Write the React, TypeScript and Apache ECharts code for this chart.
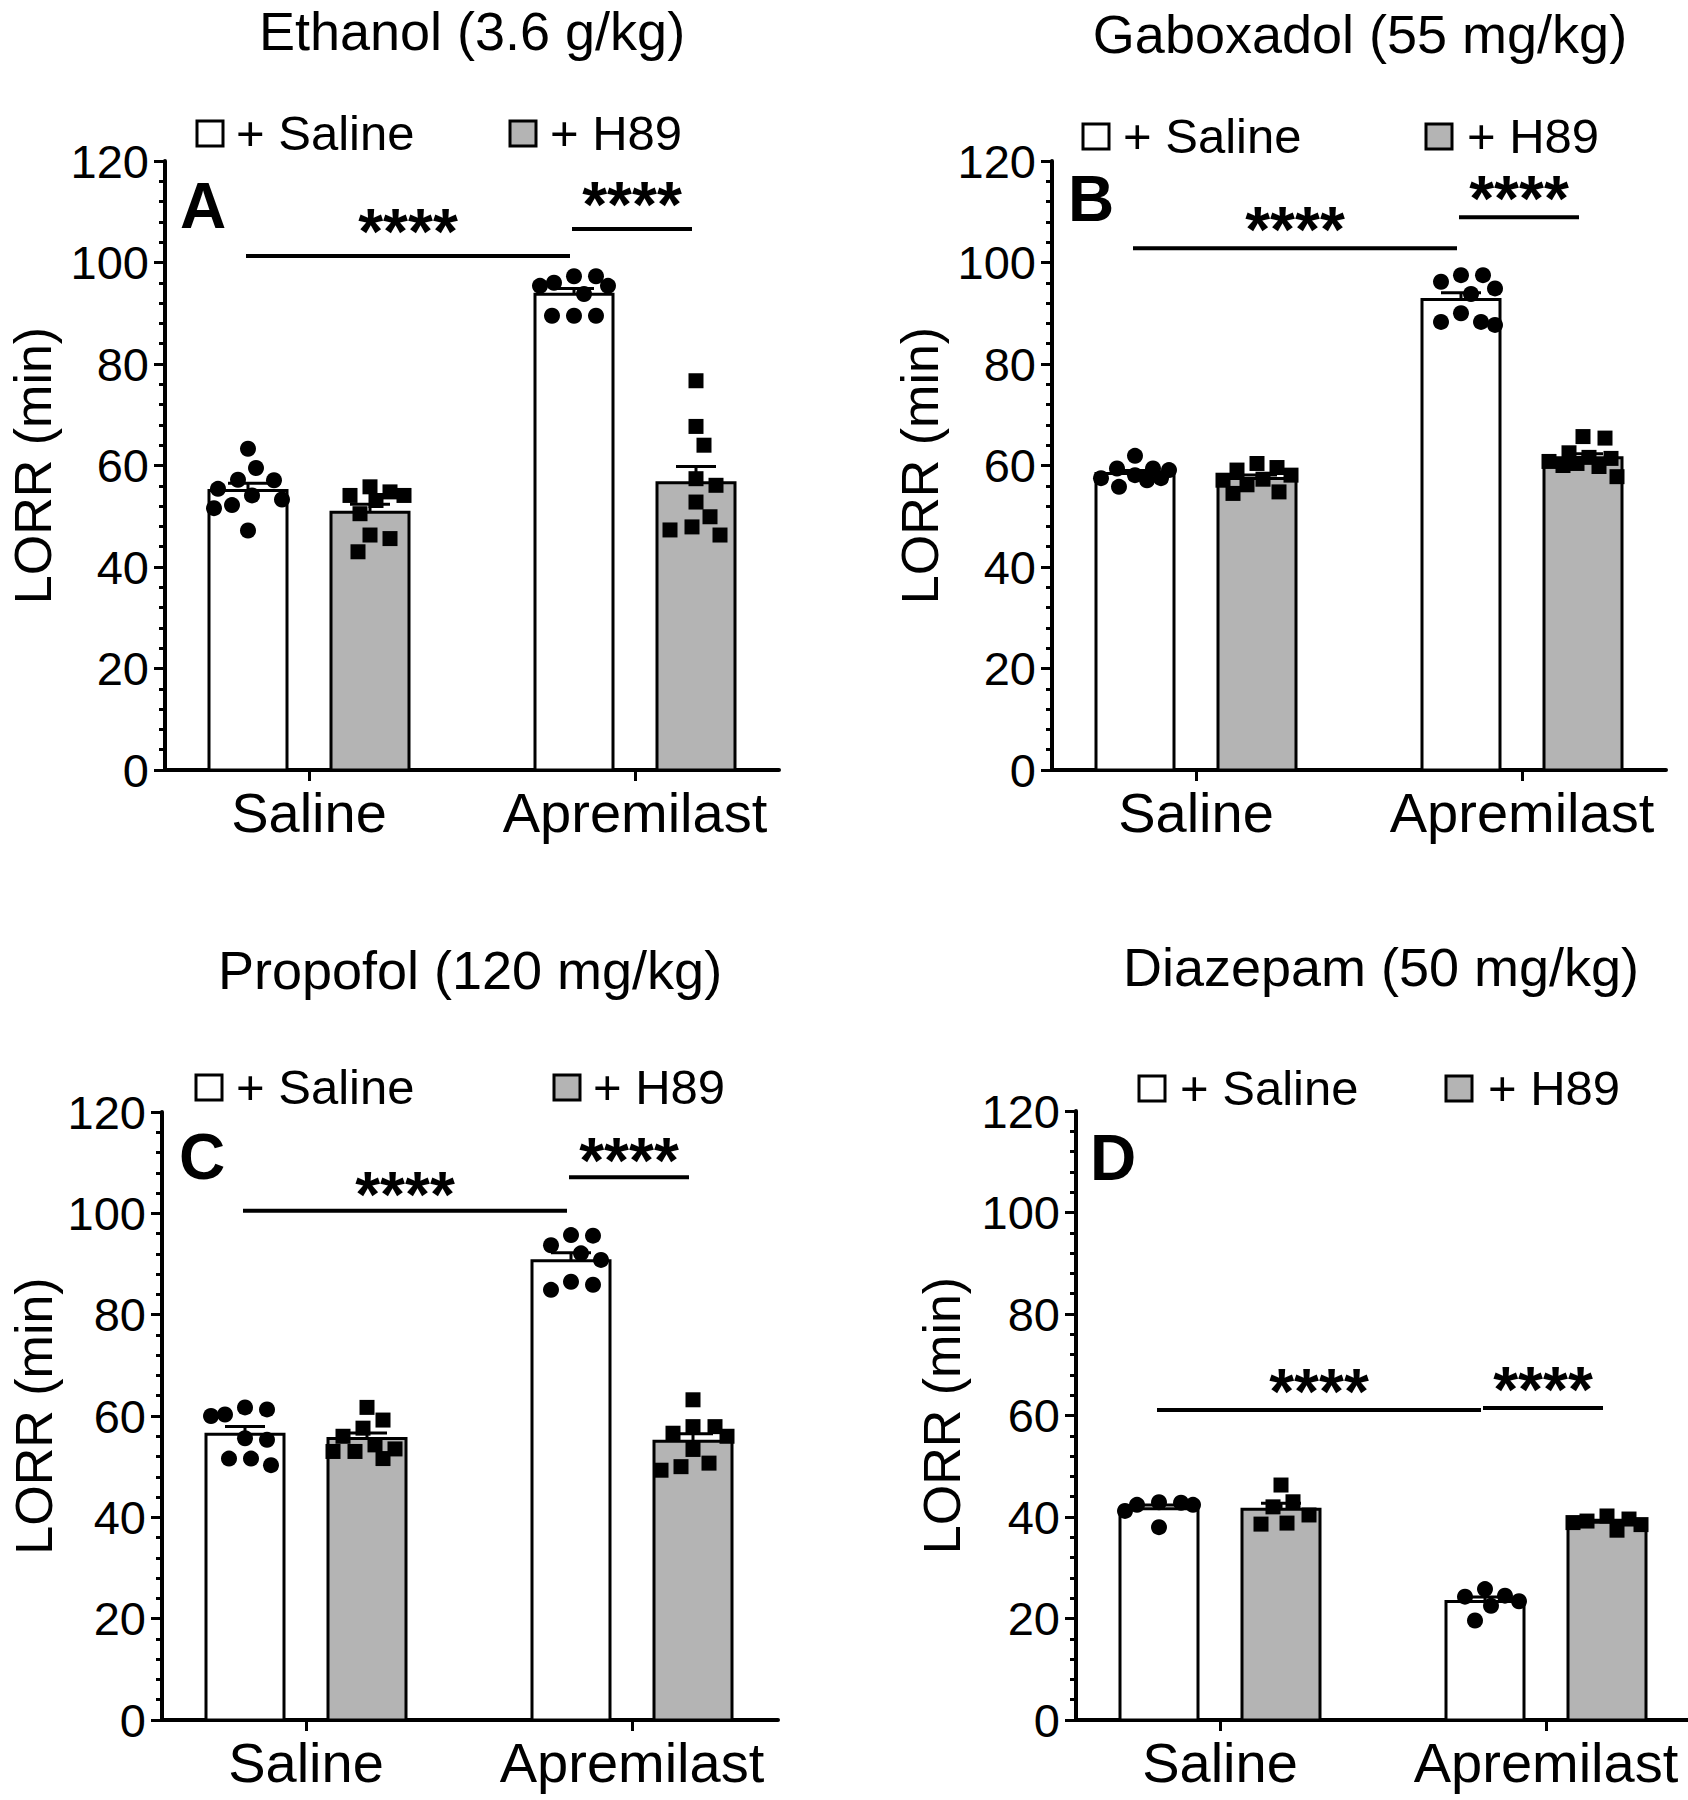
import React, { useEffect, useRef } from 'react';
import * as echarts from 'echarts';

// ---------------- data ----------------
const categories = ['Saline', 'Apremilast'];
const legendLabels = ['+ Saline', '+ H89'];
const panelTitles = ['Ethanol (3.6 g/kg)', 'Gaboxadol (55 mg/kg)', 'Propofol (120 mg/kg)', 'Diazepam (50 mg/kg)'];
const panelLetters = ['A', 'B', 'C', 'D'];
const yAxisName = 'LORR (min)';
const yMin = 0;
const yMax = 120;
const yStep = 20;
const sigLabel = '****';

// individual LORR values (min): Saline+Saline, Saline+H89, Apremilast+Saline, Apremilast+H89
const ethanolSalSal = [63.3, 59.5, 57.2, 57.1, 55.4, 54.1, 53.3, 52.2, 51.6, 47.2];
const ethanolSalH89 = [55.8, 54.8, 54.1, 54.1, 53.1, 50.5, 46.3, 45.6, 43.0];
const ethanolAprSal = [97.3, 97.3, 96.0, 95.4, 95.4, 93.8, 89.5, 89.5, 89.5];
const ethanolAprH89 = [76.7, 67.7, 64.0, 57.4, 56.1, 52.8, 49.9, 47.9, 47.3, 46.3];

const gaboxadolSalSal = [61.9, 59.4, 59.4, 59.1, 58.1, 57.5, 57.5, 57.1, 55.8];
const gaboxadolSalH89 = [60.4, 59.6, 59.1, 58.1, 57.3, 57.1, 56.2, 54.8, 54.5];
const gaboxadolAprSal = [97.5, 97.5, 96.2, 94.9, 93.8, 90.0, 88.3, 88.3, 87.7];
const gaboxadolAprH89 = [65.7, 65.4, 62.5, 61.6, 61.4, 60.8, 60.4, 60.0, 59.8, 57.8];

const propofolSalSal = [61.7, 61.3, 60.3, 60.0, 55.6, 55.3, 51.6, 51.6, 50.3];
const propofolSalH89 = [61.7, 59.2, 57.6, 56.0, 54.3, 53.5, 53.0, 53.0, 51.6];
const propofolAprSal = [95.7, 95.6, 93.7, 92.1, 90.8, 86.5, 85.9, 84.9];
const propofolAprH89 = [63.2, 57.9, 57.9, 56.6, 56.0, 53.4, 50.7, 50.0, 49.3];

const diazepamSalSal = [42.9, 42.8, 42.4, 42.4, 41.2, 38.0];
const diazepamSalH89 = [46.3, 43.0, 42.0, 40.4, 38.8, 38.6];
const diazepamAprSal = [25.8, 24.5, 24.3, 23.4, 22.5, 19.6];
const diazepamAprH89 = [40.2, 39.6, 39.2, 38.9, 38.5, 37.4];

// significance brackets: [from bar, to bar, height (min)]; bars 0..3 = SS, SH, AS, AH
const ethanolSig = [[0, 2, 101.3], [2, 3, 106.6]];
const gaboxadolSig = [[0, 2, 102.8], [2, 3, 108.9]];
const propofolSig = [[0, 2, 100.5], [2, 3, 107.1]];
const diazepamSig = [[0, 2, 61.1], [2, 3, 61.5]];

const panelGroups = [
  [ethanolSalSal, ethanolSalH89, ethanolAprSal, ethanolAprH89],
  [gaboxadolSalSal, gaboxadolSalH89, gaboxadolAprSal, gaboxadolAprH89],
  [propofolSalSal, propofolSalH89, propofolAprSal, propofolAprH89],
  [diazepamSalSal, diazepamSalH89, diazepamAprSal, diazepamAprH89],
];
const panelSig = [ethanolSig, gaboxadolSig, propofolSig, diazepamSig];

// ---------------- layout / style ----------------
const FONT = "'Liberation Sans', Arial, Helvetica, sans-serif";
const GREY = '#b4b4b4';
const UNIT_PX = 326; // px between the two category ticks
const TICK_FROM_AXIS = 144;
const BAR_OFFSET = 61;
const BAR_W = 78;
const CAP_W = 40;
const DOT = 16;
const SQ = 15;

const layouts = [
  { left: 165, top: 161, width: 614, height: 609, title: [472, 31], legendY: 133, lg: [210, 236, 523, 550], letter: [180, 206], starUp: 24, nameGap: 106 },
  { left: 1052, top: 161, width: 614, height: 609, title: [1360, 34], legendY: 136, lg: [1096, 1123, 1439, 1467], letter: [1068, 199], starUp: 18, nameGap: 106 },
  { left: 162, top: 1112, width: 616, height: 608, title: [470, 970], legendY: 1087, lg: [209, 236, 567, 593], letter: [179, 1157], starUp: 16, nameGap: 102 },
  { left: 1076, top: 1111, width: 612, height: 609, title: [1381, 967], legendY: 1088, lg: [1152, 1180, 1459, 1488], letter: [1090, 1158], starUp: 18, nameGap: 108 },
];

const mean = (a: number[]) => a.reduce((s, v) => s + v, 0) / a.length;
const sem = (a: number[]) => {
  const m = mean(a);
  const sd = Math.sqrt(a.reduce((s, v) => s + (v - m) * (v - m), 0) / (a.length - 1));
  return sd / Math.sqrt(a.length);
};

// simple beeswarm: horizontal pixel offsets so that symbols do not overlap
function swarm(values: number[], pxPerUnit: number, d: number, maxOff: number): number[] {
  const order = values.map((v, i) => i).sort((a, b) => values[b] - values[a]);
  const placed: { x: number; y: number }[] = [];
  const out = new Array(values.length).fill(0);
  for (const i of order) {
    const y = values[i] * pxPerUnit;
    let best = 0;
    let bestScore = -Infinity;
    let found = false;
    for (let k = 0; k <= maxOff && !found; k += 2) {
      const cands = k === 0 ? [0] : [k, -k];
      for (const c of cands) {
        let minD = Infinity;
        for (const p of placed) minD = Math.min(minD, Math.hypot(p.x - c, p.y - y));
        if (minD >= d) {
          best = c;
          found = true;
          break;
        }
        if (minD > bestScore) {
          bestScore = minD;
          best = c;
        }
      }
    }
    placed.push({ x: best, y });
    out[i] = best;
  }
  return out;
}

const barGroup = (b: number) => (b < 2 ? 1 : 2);
const barSide = (b: number) => (b % 2 === 0 ? -1 : 1);

function buildOption() {
  const grid: any[] = [];
  const xAxis: any[] = [];
  const yAxis: any[] = [];
  const series: any[] = [];
  const graphic: any[] = [];

  layouts.forEach((L, p) => {
    const xmin = 1 - TICK_FROM_AXIS / UNIT_PX;
    const xmax = xmin + L.width / UNIT_PX;
    grid.push({ left: L.left, top: L.top, width: L.width, height: L.height, containLabel: false });
    xAxis.push({
      type: 'value',
      gridIndex: p,
      min: xmin,
      max: xmax,
      splitLine: { show: false },
      axisLine: { show: true, onZero: false, lineStyle: { color: '#000', width: 4 } },
      axisTick: { show: true, customValues: [1, 2], length: 11, lineStyle: { color: '#000', width: 3 } },
      axisLabel: {
        show: true,
        customValues: [1, 2],
        formatter: (v: number) => categories[Math.round(v) - 1] || '',
        fontSize: 56,
        color: '#000',
        fontFamily: FONT,
        margin: 14,
      },
    });
    yAxis.push({
      type: 'value',
      gridIndex: p,
      min: yMin,
      max: yMax,
      interval: yStep,
      name: yAxisName,
      nameLocation: 'middle',
      nameRotate: 90,
      nameGap: L.nameGap,
      nameTextStyle: { fontSize: 52, color: '#000', fontFamily: FONT },
      splitLine: { show: false },
      axisLine: { show: true, lineStyle: { color: '#000', width: 4 } },
      axisTick: { show: true, length: 11, lineStyle: { color: '#000', width: 3 } },
      minorTick: { show: true, splitNumber: 5, length: 6, lineStyle: { color: '#000', width: 3 } },
      axisLabel: { fontSize: 47, color: '#000', fontFamily: FONT, margin: 16 },
    });

    const groups = panelGroups[p];
    const pxPerUnit = L.height / (yMax - yMin);

    // bars
    series.push({
      type: 'custom',
      xAxisIndex: p,
      yAxisIndex: p,
      coordinateSystem: 'cartesian2d',
      data: groups.map((g, b) => [barGroup(b), mean(g), barSide(b), b % 2]),
      renderItem: (params: any, api: any) => {
        const top = api.coord([api.value(0), api.value(1)]);
        const base = api.coord([api.value(0), 0]);
        const cx = top[0] + api.value(2) * BAR_OFFSET;
        return {
          type: 'rect',
          shape: { x: cx - BAR_W / 2, y: top[1], width: BAR_W, height: base[1] - top[1] },
          style: { fill: api.value(3) ? GREY : '#ffffff', stroke: '#000', lineWidth: 3 },
        };
      },
      z: 2,
    });

    // error bars (mean + SEM)
    series.push({
      type: 'custom',
      xAxisIndex: p,
      yAxisIndex: p,
      coordinateSystem: 'cartesian2d',
      data: groups.map((g, b) => [barGroup(b), mean(g), barSide(b), sem(g)]),
      renderItem: (params: any, api: any) => {
        const top = api.coord([api.value(0), api.value(1) + api.value(3)]);
        const m = api.coord([api.value(0), api.value(1)]);
        const cx = top[0] + api.value(2) * BAR_OFFSET;
        return {
          type: 'group',
          children: [
            { type: 'line', shape: { x1: cx, y1: m[1], x2: cx, y2: top[1] }, style: { stroke: '#000', lineWidth: 3 } },
            { type: 'line', shape: { x1: cx - CAP_W / 2, y1: top[1], x2: cx + CAP_W / 2, y2: top[1] }, style: { stroke: '#000', lineWidth: 3 } },
          ],
        };
      },
      z: 3,
    });

    // individual points
    const pts: number[][] = [];
    groups.forEach((g, b) => {
      const offs = swarm(g, pxPerUnit, b % 2 ? SQ * 1.35 : DOT * 1.3, BAR_W / 2 - 5);
      g.forEach((v, i) => pts.push([barGroup(b), v, barSide(b), offs[i], b % 2]));
    });
    series.push({
      type: 'custom',
      xAxisIndex: p,
      yAxisIndex: p,
      coordinateSystem: 'cartesian2d',
      data: pts,
      renderItem: (params: any, api: any) => {
        const c = api.coord([api.value(0), api.value(1)]);
        const x = c[0] + api.value(2) * BAR_OFFSET + api.value(3);
        if (api.value(4)) {
          return { type: 'rect', shape: { x: x - SQ / 2, y: c[1] - SQ / 2, width: SQ, height: SQ }, style: { fill: '#000' } };
        }
        return { type: 'circle', shape: { cx: x, cy: c[1], r: DOT / 2 }, style: { fill: '#000' } };
      },
      z: 4,
    });

    // significance lines
    const starUp = L.starUp;
    series.push({
      type: 'custom',
      xAxisIndex: p,
      yAxisIndex: p,
      coordinateSystem: 'cartesian2d',
      data: panelSig[p],
      renderItem: (params: any, api: any) => {
        const b1 = api.value(0);
        const b2 = api.value(1);
        const y = api.value(2);
        const x1 = api.coord([barGroup(b1), y])[0] + barSide(b1) * BAR_OFFSET - 2;
        const x2 = api.coord([barGroup(b2), y])[0] + barSide(b2) * BAR_OFFSET - 4;
        const yy = api.coord([1, y])[1];
        return {
          type: 'group',
          children: [
            { type: 'line', shape: { x1, y1: yy, x2, y2: yy }, style: { stroke: '#000', lineWidth: 4 } },
            {
              type: 'text',
              style: {
                text: sigLabel,
                x: (x1 + x2) / 2,
                y: yy - starUp,
                align: 'center',
                verticalAlign: 'middle',
                textAlign: 'center',
                textVerticalAlign: 'middle',
                fontSize: 64,
                fontWeight: 'bold',
                fontFamily: FONT,
                fill: '#000',
              },
            },
          ],
        };
      },
      z: 5,
    });

    // title
    graphic.push({
      type: 'text',
      x: L.title[0],
      y: L.title[1],
      style: { text: panelTitles[p], fontSize: 54, fontFamily: FONT, fill: '#000', align: 'center', verticalAlign: 'middle', textAlign: 'center', textVerticalAlign: 'middle' },
    });
    // panel letter
    graphic.push({
      type: 'text',
      x: L.letter[0],
      y: L.letter[1],
      style: { text: panelLetters[p], fontSize: 64, fontWeight: 'bold', fontFamily: FONT, fill: '#000', align: 'left', verticalAlign: 'middle', textAlign: 'left', textVerticalAlign: 'middle' },
    });
    // legend
    [0, 1].forEach((k) => {
      graphic.push({
        type: 'rect',
        shape: { x: L.lg[k * 2] - 13, y: L.legendY - 12, width: 26, height: 25 },
        style: { fill: k ? GREY : '#ffffff', stroke: '#000', lineWidth: 3 },
      });
      graphic.push({
        type: 'text',
        x: L.lg[k * 2 + 1],
        y: L.legendY,
        style: { text: legendLabels[k], fontSize: 49, fontFamily: FONT, fill: '#000', align: 'left', verticalAlign: 'middle', textAlign: 'left', textVerticalAlign: 'middle' },
      });
    });
  });

  return {
    animation: false,
    backgroundColor: '#ffffff',
    textStyle: { fontFamily: FONT },
    grid,
    xAxis,
    yAxis,
    series,
    graphic: { elements: graphic },
  };
}

export default function App() {
  const ref = useRef<HTMLDivElement>(null);
  useEffect(() => {
    document.body.style.margin = '0';
    if (!ref.current) return;
    const chart = echarts.init(ref.current, undefined, { renderer: 'svg' });
    chart.setOption(buildOption() as any);
    return () => chart.dispose();
  }, []);
  return <div ref={ref} style={{ width: 1688, height: 1800, background: '#fff' }} />;
}
